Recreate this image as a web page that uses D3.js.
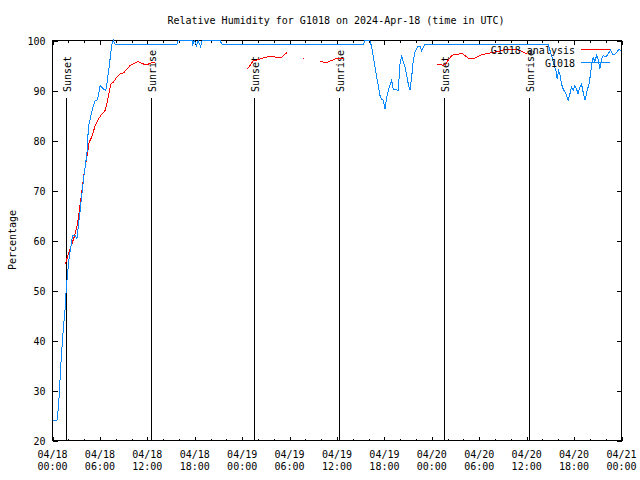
<!DOCTYPE html>
<html>
<head>
<meta charset="utf-8">
<script src="https://cdn.jsdelivr.net/npm/d3@7"></script>
<style>
  html, body { margin: 0; padding: 0; background: #fff; }
  svg { display: block; }
  text { font-family: "DejaVu Sans Mono", "Liberation Mono", monospace; font-size: 10px; fill: #000; }
</style>
</head>
<body>
<svg id="chart" width="640" height="480"></svg>
<script>
// ---------- DATA ----------
const titleText = "Relative Humidity for G1018 on 2024-Apr-18 (time in UTC)";
const yLabel = "Percentage";
// hours since 2024-04-18 00:00 UTC
const tickHours = [0, 6, 12, 18, 24, 30, 36, 42, 48, 54, 60, 66, 72];
const tickDates = ["04/18","04/18","04/18","04/18","04/19","04/19","04/19","04/19","04/20","04/20","04/20","04/20","04/21"];
const tickTimes = ["00:00","06:00","12:00","18:00","00:00","06:00","12:00","18:00","00:00","06:00","12:00","18:00","00:00"];
const yTicks = [20, 30, 40, 50, 60, 70, 80, 90, 100];

const sunEventHours = [1.69, 12.44, 25.54, 36.29, 49.57, 60.32];
const sunEventLabels = ["Sunset", "Sunrise", "Sunset", "Sunrise", "Sunset", "Sunrise"];

// Observed G1018
const obsHours = [0, 0.56, 0.76, 1.06, 1.32, 1.61, 1.73, 1.90, 2.11, 2.33, 2.53, 2.87, 3.09, 3.29, 3.50, 3.72, 4.01, 4.35, 4.55, 4.77,
  5.11, 5.40, 5.69, 6.03, 6.45, 6.75, 6.88, 7.21, 7.51, 7.71, 7.93, 15.73, 15.90, 17.67, 17.73, 17.92, 18.23, 18.42, 18.74, 18.93,
  21.2, 21.46, 39.33, 39.54, 40.17, 40.39, 40.59, 40.81, 41.02, 41.22, 41.44, 41.65, 41.86, 42.07, 42.29, 42.49, 42.70, 42.92, 43.12,
  43.55, 43.75, 43.97, 44.18, 44.39, 44.60, 44.82, 45.02, 45.23, 45.45, 45.65, 45.87, 46.16, 46.50, 46.71, 47.13, 62.72, 63.15, 63.44,
  63.70, 63.86, 64.04, 64.20, 64.41, 64.62, 64.83, 65.05, 65.25, 65.47, 65.68, 65.88, 66.10, 66.31, 66.51, 66.73, 66.94, 67.14, 67.40,
  67.65, 67.90, 68.08, 68.25, 68.41, 68.63, 68.84, 69.04, 69.26, 69.47, 69.68, 70.02, 70.31, 70.61, 70.86, 71.15, 71.44, 71.69, 71.9];
const obsValues = [24, 24, 26.7, 35.3, 41.3, 46.7, 50, 53.3, 56.7, 58.7, 61, 61, 60.3, 63.3, 66, 69.3, 73.3, 77.3, 82.7, 84.3,
  86.7, 88, 88.1, 91, 90.3, 90, 91.3, 95.3, 99.3, 100, 99.2, 99.2, 100, 100, 99, 100, 99, 100, 98.8, 100,
  100, 99.2, 99.2, 100, 100, 98.7, 96.7, 94.7, 92.7, 91, 89, 88.3, 88, 86.3, 88.7, 90, 91, 92, 90.3,
  90.1, 90, 95.3, 97, 95.7, 94.7, 93, 91.3, 90.1, 92.7, 96, 97.7, 98.7, 98.9, 98, 99.2, 99.2, 97, 95.3,
  94, 92.3, 94, 93.3, 91.3, 90.3, 89.7, 89, 88.1, 89.3, 90.7, 90, 91, 90.3, 89.3, 90.7, 91.3, 89.7, 88.1,
  90, 91.3, 93.3, 95.3, 96.7, 95.7, 97, 96.3, 94.3, 96.3, 97, 96.7, 97.3, 98.1, 97.3, 97.3, 97.7, 98.3, 98];

// Analysis G1018 (null = gap)
const anaHours = [1.61, 1.90, 2.15, 2.45, 2.74, 3.09, 3.29, 3.50, 3.79, 4.05, 4.35, 4.64, 4.98, 5.40, 5.82, 6.25, 6.66, 6.88, 7.08, 7.38,
  7.71, 8.14, 8.56, 8.98, 9.41, 9.83, 10.46, 10.88, 11.09, 11.51, 12.14, 12.77, 12.99, 13.1,
  24.66, 25.0, 25.42, 25.85, 26.27, 26.68, 27.11, 27.53, 27.95, 28.45, 29.01, 29.43, 29.72, 29.8,
  31.70, 31.85, 31.9,
  33.85, 34.27, 34.70, 35.12, 35.53, 35.96, 36.38, 36.89, 37.0,
  48.61, 49.03, 49.44, 49.79, 50.08, 50.51, 50.92, 51.34, 51.77, 52.19, 52.61, 53.03, 53.45, 53.87, 54.30, 54.71, 55.35, 55.98,
  56.61, 57.46, 58.29, 58.93, 59.56, 60.03];
const anaValues = [55.3, 56.7, 58, 59.3, 60.7, 62.7, 64.7, 67.3, 70.7, 74, 76.7, 79.7, 80.7, 83, 84.3, 85.3, 86, 87.3, 89, 91.3,
  91.7, 92.7, 93.3, 93.5, 94.3, 95, 95.5, 95.8, 95.6, 95.3, 95.3, 95.7, 95.7, null,
  94.3, 95, 96, 96.1, 96.3, 96.5, 96.7, 96.9, 96.8, 96.5, 96.7, 97.3, 97.6, null,
  96.5, 96.5, null,
  95.9, 95.7, 95.5, 95.9, 96.1, 96.5, 96.5, 96.3, null,
  95.3, 95.3, 95, 95.3, 96.1, 97, 97.2, 97.2, 97.5, 97, 96.5, 96.3, 96.5, 96.8, 97.2, 97.3, 97.5, 97.7,
  97.9, 98.3, 98.3, 98.1, 97.7, 97.3];

const seriesNames = ["G1018 analysis", "G1018"];
const seriesColors = ["#ff0000", "#0a88ff"];

// ---------- CHART ----------
const svg = d3.select("#chart");
const L = 52.5, R = 621.5, T = 40.5, B = 440.5;

const x = d3.scaleLinear().domain([0, 72]).range([L, R]);
const y = d3.scaleLinear().domain([20, 100]).range([B, T]);

svg.append("text").attr("x", 336).attr("y", 24).attr("text-anchor", "middle").text(titleText);

svg.append("text")
  .attr("transform", "translate(16,240) rotate(-90)")
  .attr("text-anchor", "middle")
  .text(yLabel);

const minorHours = d3.range(0, 73, 2);

function styleAxis(g) {
  g.selectAll(".domain").remove();
  g.selectAll("line").attr("stroke", "#000").attr("shape-rendering", "crispEdges");
}

// bottom major
svg.append("g").attr("transform", `translate(0,${B})`)
  .call(d3.axisBottom(x).tickValues(tickHours).tickSizeInner(-4).tickSizeOuter(0).tickPadding(0).tickFormat(""))
  .call(styleAxis);
// bottom minor
svg.append("g").attr("transform", `translate(0,${B})`)
  .call(d3.axisBottom(x).tickValues(minorHours).tickSizeInner(-2).tickSizeOuter(0).tickFormat(""))
  .call(styleAxis);
// top mirror major + minor
svg.append("g").attr("transform", `translate(0,${T})`)
  .call(d3.axisTop(x).tickValues(tickHours).tickSizeInner(-4).tickSizeOuter(0).tickFormat(""))
  .call(styleAxis);
svg.append("g").attr("transform", `translate(0,${T})`)
  .call(d3.axisTop(x).tickValues(minorHours).tickSizeInner(-2).tickSizeOuter(0).tickFormat(""))
  .call(styleAxis);

// x tick labels (two lines)
const xl = svg.append("g");
tickHours.forEach((h, i) => {
  const t = xl.append("text").attr("text-anchor", "middle");
  t.append("tspan").attr("x", x(h)).attr("y", 457.5).text(tickDates[i]);
  t.append("tspan").attr("x", x(h)).attr("y", 469.5).text(tickTimes[i]);
});

// left axis
const yAxisG = svg.append("g").attr("transform", `translate(${L},0)`)
  .call(d3.axisLeft(y).tickValues(yTicks).tickSizeInner(-5).tickSizeOuter(0).tickPadding(7).tickFormat(d3.format("d")));
yAxisG.selectAll(".domain").remove();
yAxisG.selectAll("line").attr("stroke", "#000").attr("shape-rendering", "crispEdges");
yAxisG.selectAll("text").attr("dy", "0.35em");
yAxisG.attr("font-family", null).attr("font-size", null);
// right mirror
svg.append("g").attr("transform", `translate(${R},0)`)
  .call(d3.axisRight(y).tickValues(yTicks).tickSizeInner(-5).tickSizeOuter(0).tickFormat(""))
  .call(styleAxis);

// border
svg.append("rect").attr("x", L).attr("y", T).attr("width", R - L).attr("height", B - T)
  .attr("fill", "none").attr("stroke", "#000").attr("shape-rendering", "crispEdges");

// sunrise / sunset lines
sunEventHours.forEach((h, i) => {
  const lx = Math.round(x(h)) + 0.5;
  svg.append("line").attr("x1", lx).attr("x2", lx).attr("y1", 98).attr("y2", B)
    .attr("stroke", "#000").attr("shape-rendering", "crispEdges");
  svg.append("text")
    .attr("transform", `translate(${lx + 4},92) rotate(-90)`)
    .attr("text-anchor", "start")
    .text(sunEventLabels[i]);
});

// series
const line = d3.line()
  .defined(d => d[1] !== null)
  .x(d => x(d[0])).y(d => y(d[1]));

const anaData = anaHours.map((h, i) => [h, anaValues[i]]);
const obsData = obsHours.map((h, i) => [h, obsValues[i]]);

svg.append("path").datum(anaData).attr("d", line)
  .attr("fill", "none").attr("stroke", seriesColors[0]).attr("stroke-width", 1)
  .attr("shape-rendering", "crispEdges");
svg.append("path").datum(obsData).attr("d", line)
  .attr("fill", "none").attr("stroke", seriesColors[1]).attr("stroke-width", 1)
  .attr("shape-rendering", "crispEdges");

// legend
const lg = svg.append("g");
seriesNames.forEach((name, i) => {
  const ly = 49.5 + i * 13;
  lg.append("text").attr("x", 575).attr("y", ly + 4).attr("text-anchor", "end").text(name);
  lg.append("line").attr("x1", 581).attr("x2", 610).attr("y1", ly).attr("y2", ly)
    .attr("stroke", seriesColors[i]).attr("stroke-width", 1).attr("shape-rendering", "crispEdges");
});
</script>
</body>
</html>
